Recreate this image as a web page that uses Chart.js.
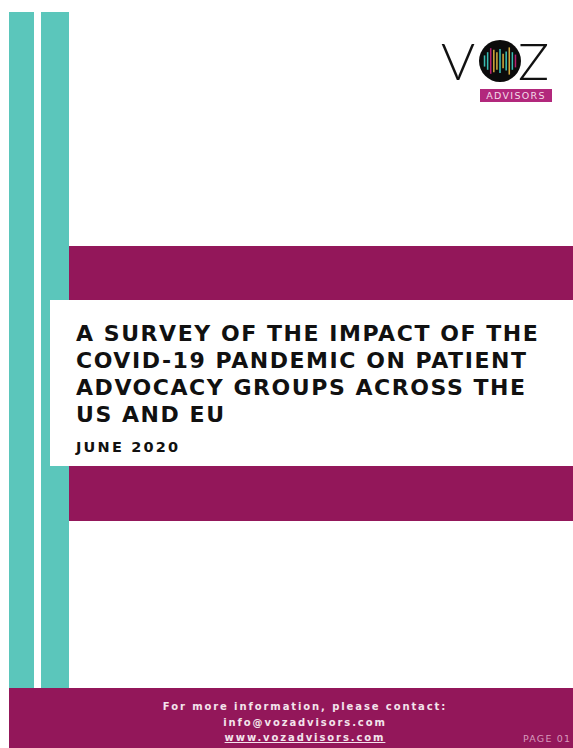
<!DOCTYPE html>
<html>
<head>
<meta charset="utf-8">
<script src="https://cdn.jsdelivr.net/npm/chart.js@4.4.1/dist/chart.umd.min.js"></script>
<style>
  html, body { margin:0; padding:0; background:#ffffff; }
  #page { position:relative; width:573px; height:748px; overflow:hidden; background:#ffffff; font-family:"DejaVu Sans", sans-serif; }
  .abs { position:absolute; }
  .teal { background:#5bc6bb; }
  .mag { background:#93175a; }
  #title { left:76px; top:320px; font-size:22px; line-height:27px; font-weight:bold; letter-spacing:1.55px; color:#111; white-space:nowrap; }
  #date { left:76px; top:440px; font-size:14.5px; line-height:15px; font-weight:bold; letter-spacing:2.2px; color:#111; white-space:nowrap; }
  #footer-text { left:155px; width:300px; top:699px; text-align:center; color:#f3e4ec; font-size:10px; line-height:15.5px; font-weight:bold; letter-spacing:1.9px; white-space:nowrap; }
  #footer-text a { color:#f3e4ec; text-decoration:underline; }
  #pageno { left:523px; top:733px; font-size:9.5px; line-height:12px; letter-spacing:1.2px; color:#d79bbd; white-space:nowrap; }
  .logo-letter { font-family:"Lato","Open Sans",sans-serif; font-weight:300; font-size:52px; line-height:52px; color:#111; }
  #circle { left:479px; top:40px; width:42px; height:42px; border-radius:50%; background:#0b0b0b; overflow:hidden; }
  #advisors { left:480px; top:89px; width:72px; height:13px; background:#b2287c; color:#f4dbe9; font-size:9.5px; line-height:13px; letter-spacing:1.3px; text-align:center; }
</style>
</head>
<body>
<div id="page">
  <!-- teal stripes -->
  <div class="abs teal" style="left:9px; top:12px; width:25px; height:676px;"></div>
  <div class="abs teal" style="left:41px; top:12px; width:28px; height:676px;"></div>
  <!-- magenta bands -->
  <div class="abs mag" style="left:69px; top:246px; width:504px; height:54px;"></div>
  <div class="abs mag" style="left:69px; top:466px; width:504px; height:55px;"></div>
  <!-- white title box -->
  <div class="abs" style="left:50px; top:300px; width:523px; height:166px; background:#ffffff;"></div>
  <div id="title" class="abs">A SURVEY OF THE IMPACT OF THE<br>COVID-19 PANDEMIC ON PATIENT<br>ADVOCACY GROUPS ACROSS THE<br>US AND EU</div>
  <div id="date" class="abs">JUNE 2020</div>
  <!-- footer -->
  <div class="abs mag" style="left:9px; top:688px; width:564px; height:60px;"></div>
  <div id="footer-text" class="abs">For more information, please contact:<br>info@vozadvisors.com<br><a>www.vozadvisors.com</a></div>
  <div id="pageno" class="abs">PAGE 01</div>
  <!-- logo -->
  <div class="abs logo-letter" style="left:441px; top:34px;">V</div>
  <div class="abs logo-letter" style="left:518px; top:34px;">Z</div>
  <div id="circle" class="abs">
    <canvas id="wave" width="34" height="32" style="position:absolute; left:4px; top:5px;"></canvas>
  </div>
  <div id="advisors" class="abs">ADVISORS</div>
</div>
<script>
// Logo waveform bars (half-heights, relative)
const waveLabels = ['b1','b2','b3','b4','b5','b6','b7','b8','b9','b10','b11'];
const waveHeights = [0.35, 0.55, 0.8, 0.7, 0.55, 0.75, 0.45, 0.6, 0.85, 0.55, 0.4];
const waveColors = ['#39bdb3','#39bdb3','#b3206f','#d2a93c','#d2a93c','#39bdb3','#d2a93c','#39bdb3','#d2a93c','#39bdb3','#b3206f'];

new Chart(document.getElementById('wave'), {
  type: 'bar',
  data: {
    labels: waveLabels,
    datasets: [{
      data: waveHeights.map(h => [-h, h]),
      backgroundColor: waveColors,
      borderWidth: 0,
      barPercentage: 0.5,
      categoryPercentage: 1.0
    }]
  },
  options: {
    responsive: false,
    animation: false,
    devicePixelRatio: 1,
    layout: { padding: 0 },
    plugins: { legend: { display: false }, tooltip: { enabled: false } },
    scales: {
      x: { display: false },
      y: { display: false, min: -1, max: 1 }
    }
  }
});
</script>
</body>
</html>
